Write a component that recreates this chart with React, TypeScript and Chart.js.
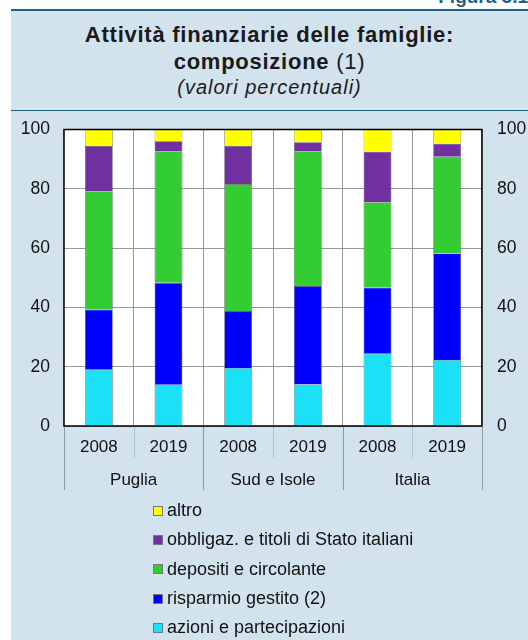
import React, { useEffect, useRef } from "react";
import { Chart, registerables } from "chart.js";

Chart.register(...registerables);

const years = ["2008", "2019", "2008", "2019", "2008", "2019"];
const groups = ["Puglia", "Sud e Isole", "Italia"];
const yTicks = [0, 20, 40, 60, 80, 100];

const azioni = [19.0, 13.9, 19.6, 14.1, 24.4, 22.3];
const risparmio = [20.2, 34.4, 19.2, 33.1, 22.3, 35.9];
const depositi = [40.0, 44.4, 42.8, 45.5, 28.8, 32.6];
const obbligaz = [15.2, 3.3, 12.8, 3.0, 17.0, 4.4];
const altro = [5.6, 4.0, 5.6, 4.3, 7.5, 4.8];

const seriesNames = [
  "azioni e partecipazioni",
  "risparmio gestito (2)",
  "depositi e circolante",
  "obbligaz. e titoli di Stato italiani",
  "altro",
];
const seriesColors = ["#1ae1f5", "#0000ff", "#33cc33", "#7030a0", "#ffff00"];
const seriesData = [azioni, risparmio, depositi, obbligaz, altro];

const FONT = "'Liberation Sans', Arial, Helvetica, sans-serif";
const PANEL = "#d3e3ee";
const DARK = "#1d5f85";

export default function App() {
  const ref = useRef<HTMLCanvasElement | null>(null);

  useEffect(() => {
    if (!ref.current) return;
    const frame = {
      id: "frame",
      beforeDraw(chart: any) {
        const { ctx, chartArea: a } = chart;
        ctx.save();
        ctx.fillStyle = "#ffffff";
        ctx.fillRect(a.left, a.top, a.right - a.left, a.bottom - a.top);
        ctx.restore();
      },
      afterDraw(chart: any) {
        const { ctx, chartArea: a } = chart;
        const xs = chart.scales.x;
        ctx.save();
        ctx.strokeStyle = "#000";
        ctx.lineWidth = 1.5;
        ctx.strokeRect(a.left, a.top, a.right - a.left, a.bottom - a.top);
        const n = years.length;
        const w = (a.right - a.left) / n;
        // year separators (short)
        ctx.strokeStyle = "#b5c3cd";
        ctx.lineWidth = 1;
        for (let i = 1; i < n; i += 2) {
          const x = Math.round(a.left + i * w) + 0.5;
          ctx.beginPath();
          ctx.moveTo(x, a.bottom + 1);
          ctx.lineTo(x, a.bottom + 32);
          ctx.stroke();
        }
        // group separators (long)
        ctx.strokeStyle = "#8a9aa6";
        for (let g = 0; g <= groups.length; g++) {
          const x = Math.round(a.left + g * 2 * w) + 0.5;
          ctx.beginPath();
          ctx.moveTo(x, a.bottom + 1);
          ctx.lineTo(x, a.bottom + 64);
          ctx.stroke();
        }
        ctx.fillStyle = "#111";
        ctx.font = `17px ${FONT}`;
        ctx.textAlign = "center";
        ctx.textBaseline = "middle";
        groups.forEach((gname, g) => {
          const cx = (xs.getPixelForValue(g * 2) + xs.getPixelForValue(g * 2 + 1)) / 2;
          ctx.fillText(gname, cx, a.bottom + 54);
        });
        ctx.restore();
      },
    };

    const chart = new Chart(ref.current, {
      type: "bar",
      data: {
        labels: years,
        datasets: seriesData.map((d, i) => ({
          label: seriesNames[i],
          data: d,
          backgroundColor: seriesColors[i],
          borderColor: "#555",
          borderWidth: 0.6,
          barPercentage: 0.4,
          categoryPercentage: 1,
          yAxisID: "y",
        })),
      },
      options: {
        animation: false,
        responsive: false,
        maintainAspectRatio: false,
        layout: { padding: { top: 9, left: 0, right: 0, bottom: 0 } },
        plugins: {
          legend: { display: false },
          tooltip: { enabled: false },
          title: { display: false },
        },
        scales: {
          x: {
            stacked: true,
            offset: true,
            grid: {
              offset: true,
              color: "#999",
              lineWidth: 1,
              drawTicks: false,
            },
            border: { display: false },
            ticks: {
              color: "#111",
              font: { size: 17, family: FONT },
              padding: 11,
            },
            afterFit(scale: any) {
              scale.height = 74;
            },
          },
          y: {
            stacked: true,
            position: "left",
            min: 0,
            max: 100,
            afterBuildTicks(scale: any) {
              scale.ticks = yTicks.map((v) => ({ value: v }));
            },
            grid: { color: "#999", drawTicks: false, lineWidth: 1 },
            border: { display: false },
            ticks: {
              color: "#111",
              font: { size: 17.5, family: FONT },
              padding: 14,
            },
            afterFit(scale: any) {
              scale.width = 53;
            },
          },
          y2: {
            position: "right",
            min: 0,
            max: 100,
            afterBuildTicks(scale: any) {
              scale.ticks = yTicks.map((v) => ({ value: v }));
            },
            grid: { display: false, drawTicks: false },
            border: { display: false },
            ticks: {
              color: "#111",
              font: { size: 17.5, family: FONT },
              padding: 15,
            },
            afterFit(scale: any) {
              scale.width = 46;
            },
          },
        },
      },
      plugins: [frame],
    });
    return () => chart.destroy();
  }, []);

  const legendItems = seriesNames
    .map((n, i) => ({ n, c: seriesColors[i] }))
    .reverse();

  return (
    <div
      style={{
        position: "fixed",
        left: 0,
        top: 0,
        width: 528,
        height: 640,
        background: "#fff",
        overflow: "hidden",
        fontFamily: FONT,
      }}
    >
      <div
        style={{
          position: "absolute",
          right: 0,
          top: -13,
          fontWeight: "bold",
          fontSize: 19,
          color: DARK,
          whiteSpace: "nowrap",
          lineHeight: "19px",
        }}
      >
        Figura 5.1
      </div>
      <div
        style={{
          position: "absolute",
          left: 11,
          top: 9,
          width: 517,
          height: 631,
          background: PANEL,
          borderTop: `2px solid ${DARK}`,
        }}
      />
      <div
        style={{
          position: "absolute",
          left: 11,
          top: 110,
          width: 517,
          height: 1,
          background: DARK,
        }}
      />
      <div
        style={{
          position: "absolute",
          left: 11,
          width: 517,
          top: 22,
          textAlign: "center",
          color: "#1a1a1a",
          fontSize: 22,
          fontWeight: "bold",
          lineHeight: "26px",
          letterSpacing: 0.75,
          whiteSpace: "nowrap",
        }}
      >
        Attività finanziarie delle famiglie:
      </div>
      <div
        style={{
          position: "absolute",
          left: 11,
          width: 517,
          top: 49,
          textAlign: "center",
          color: "#1a1a1a",
          fontSize: 22,
          lineHeight: "26px",
          letterSpacing: 0.75,
          whiteSpace: "nowrap",
        }}
      >
        <b>composizione</b> (1)
      </div>
      <div
        style={{
          position: "absolute",
          left: 11,
          width: 517,
          top: 75,
          textAlign: "center",
          color: "#1a1a1a",
          fontSize: 20,
          fontStyle: "italic",
          lineHeight: "24px",
          letterSpacing: 1,
          whiteSpace: "nowrap",
        }}
      >
        (valori percentuali)
      </div>
      <canvas
        ref={ref}
        width={517}
        height={396}
        style={{ position: "absolute", left: 11, top: 104, width: 517, height: 396 }}
      />
      <div style={{ position: "absolute", left: 153, top: 496 }}>
        {legendItems.map((it) => (
          <div
            key={it.n}
            style={{
              display: "flex",
              alignItems: "center",
              height: 29.3,
              fontSize: 18,
              color: "#111",
              whiteSpace: "nowrap",
            }}
          >
            <span
              style={{
                display: "inline-block",
                width: 8,
                height: 8,
                background: it.c,
                border: "1px solid #777",
                marginRight: 4,
              }}
            />
            {it.n}
          </div>
        ))}
      </div>
    </div>
  );
}
